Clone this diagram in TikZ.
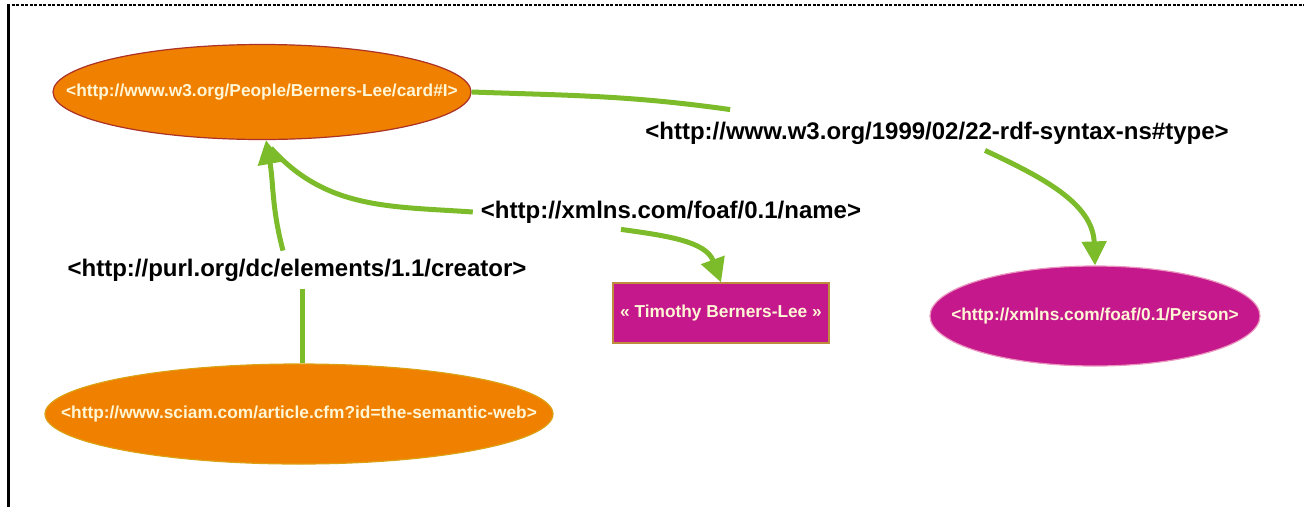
\documentclass[tikz,border=0pt]{standalone}
\usepackage{fontspec}
\setmainfont{Liberation Sans}
\usetikzlibrary{shapes.geometric,arrows.meta}
\definecolor{resorange}{RGB}{240,128,0}
\definecolor{resmagenta}{RGB}{196,24,140}
\definecolor{arcgreen}{RGB}{124,187,42}
\definecolor{nodetext}{RGB}{255,246,214}
\begin{document}
\begin{tikzpicture}[x=1pt, y=-1pt,
		resource/.style={ellipse, fill=resorange, inner sep=0pt},
		restext/.style={text=nodetext, font=\fontsize{17.3}{20}\selectfont\bfseries, inner sep=0pt},
		predicate/.style={font=\fontsize{24}{28}\selectfont\bfseries, inner sep=0pt},
		arc/.style={draw=arcgreen, line width=5pt},
		tip/.style={arc, -{Triangle[length=24pt,width=24pt]}}]
			\useasboundingbox (0,0) rectangle (1304,507);
			\draw[line width=2.5pt, dash pattern=on 3pt off 1.5pt] (7,5) -- (1304,5);
			\draw[line width=3pt] (8,4) -- (8,507);

			\node[resource, draw={rgb,255:red,170;green,50;blue,40}, line width=1.2pt, minimum width=418pt, minimum height=95pt,
				label={[restext]center:{<http://www.w3.org/People/Berners-Lee/card\#I>}}] (card) at (262,92) {};
			\node[resource, draw={rgb,255:red,220;green,160;blue,20}, line width=1.2pt, minimum width=508pt, minimum height=100pt,
				label={[restext]center:{<http://www.sciam.com/article.cfm?id=the-semantic-web>}}] (article) at (299,414) {};
			\node[resource, fill=resmagenta, draw={rgb,255:red,235;green,150;blue,190}, line width=1.2pt, minimum width=330pt, minimum height=100pt,
				label={[restext]center:{<http://xmlns.com/foaf/0.1/Person>}}] (person) at (1095,316) {};
			\node[rectangle, fill=resmagenta, draw={rgb,255:red,190;green,140;blue,60}, line width=1.2pt, minimum width=216pt, minimum height=60pt,
				restext] (fullname) at (721,313) {« Timothy Berners-Lee »};

			\node[predicate] (type) at (937,133) {<http://www.w3.org/1999/02/22-rdf-syntax-ns\#type>};
			\node[predicate] (name) at (671,212) {<http://xmlns.com/foaf/0.1/name>};
			\node[predicate] (creator) at (297,270) {<http://purl.org/dc/elements/1.1/creator>};

			\draw[arc] (card.east) to[out=-2, in=172] ([xshift=85pt, yshift=12pt]type.north west);
			\draw[tip] ([xshift=48pt, yshift=-6pt]type.south) to[out=-25, in=92] (person.north);
			\draw[arc] ([xshift=9pt, yshift=-8pt]card.south) to[out=-48, in=176] ([xshift=-8pt]name.west);
			\draw[tip] ([xshift=-50pt, yshift=-6pt]name.south) to[out=-8, in=110] (fullname.north);
			\draw[arc] ([xshift=3pt]article.north) -- ([xshift=3pt, yshift=-8pt]article.north |- creator.south);
			\draw[tip] ([xshift=-14pt, yshift=8pt]creator.north) to[out=105, in=-80] ([xshift=4pt]card.south);
		\end{tikzpicture}
\end{document}
